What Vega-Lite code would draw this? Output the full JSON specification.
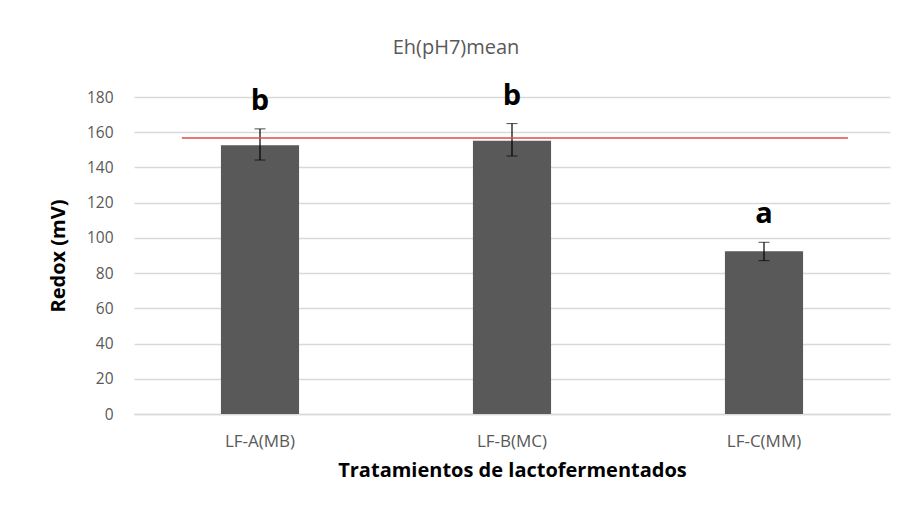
{
  "$schema": "https://vega.github.io/schema/vega-lite/v6.json",
  "width": 756,
  "height": 317,
  "autosize": {"type": "none"},
  "padding": {"left": 134, "top": 97, "right": 14, "bottom": 100},
  "background": "white",
  "config": {
    "view": {"stroke": null},
    "font": "Open Sans",
    "axis": {
      "labelColor": "#595959",
      "labelFont": "Open Sans",
      "ticks": false,
      "titleFontSize": 20,
      "titleFontWeight": "bold",
      "titleColor": "#000000",
      "titleFont": "Open Sans"
    },
    "axisX": {
      "labelFontSize": 17,
      "labelPadding": 19,
      "labelAngle": 0,
      "domainColor": "#d9d9d9",
      "domainWidth": 1.5,
      "titlePadding": 11,
      "grid": false
    },
    "axisY": {
      "labelFontSize": 15.5,
      "labelPadding": 21,
      "domain": false,
      "gridColor": "#d9d9d9",
      "gridWidth": 1.5,
      "titlePadding": 18,
      "tickCount": 10
    }
  },
  "title": {
    "text": "Eh(pH7)mean",
    "fontSize": 20,
    "font": "Open Sans",
    "fontWeight": "normal",
    "color": "#595959",
    "anchor": "middle",
    "frame": "group",
    "offset": 24,
    "dx": -56
  },
  "layer": [
    {
      "data": {
        "values": [
          {"trat": "LF-A(MB)", "mean": 152.6, "lo": 144.2, "hi": 161.9, "letra": "b"},
          {"trat": "LF-B(MC)", "mean": 155.2, "lo": 146.5, "hi": 164.9, "letra": "b"},
          {"trat": "LF-C(MM)", "mean": 92.4, "lo": 87.1, "hi": 97.5, "letra": "a"}
        ]
      },
      "encoding": {
        "x": {
          "field": "trat",
          "type": "nominal",
          "sort": null,
          "scale": {"paddingInner": 0.69, "paddingOuter": 0.345},
          "title": "Tratamientos de lactofermentados"
        }
      },
      "layer": [
        {
          "mark": {"type": "bar", "color": "#595959"},
          "encoding": {
            "y": {
              "field": "mean",
              "type": "quantitative",
              "scale": {"domain": [0, 180]},
              "title": "Redox (mV)",
              "axis": {"values": [0, 20, 40, 60, 80, 100, 120, 140, 160, 180]}
            }
          }
        },
        {
          "mark": {"type": "errorbar", "ticks": {"size": 11, "color": "#000000", "strokeWidth": 1.2}, "rule": {"color": "#000000", "strokeWidth": 1.2}},
          "encoding": {
            "y": {"field": "lo", "type": "quantitative", "title": "Redox (mV)", "axis": {"values": [0, 20, 40, 60, 80, 100, 120, 140, 160, 180]}},
            "y2": {"field": "hi"}
          }
        },
        {
          "mark": {"type": "text", "fontSize": 29, "fontWeight": "bold", "color": "#000000", "baseline": "bottom", "dy": -13},
          "encoding": {
            "y": {"field": "hi", "type": "quantitative", "title": "Redox (mV)", "axis": {"values": [0, 20, 40, 60, 80, 100, 120, 140, 160, 180]}},
            "text": {"field": "letra"}
          }
        }
      ]
    },
    {
      "data": {"values": [{"ref": 156.7}]},
      "mark": {"type": "rule", "color": "#e04a4a", "strokeWidth": 1.5},
      "encoding": {
        "x": {"datum": 0.19, "type": "quantitative", "scale": {"domain": [0, 3]}, "axis": null},
        "x2": {"datum": 2.833},
        "y": {"field": "ref", "type": "quantitative", "title": "Redox (mV)", "axis": {"values": [0, 20, 40, 60, 80, 100, 120, 140, 160, 180]}}
      }
    }
  ],
  "resolve": {"scale": {"x": "independent"}}
}
